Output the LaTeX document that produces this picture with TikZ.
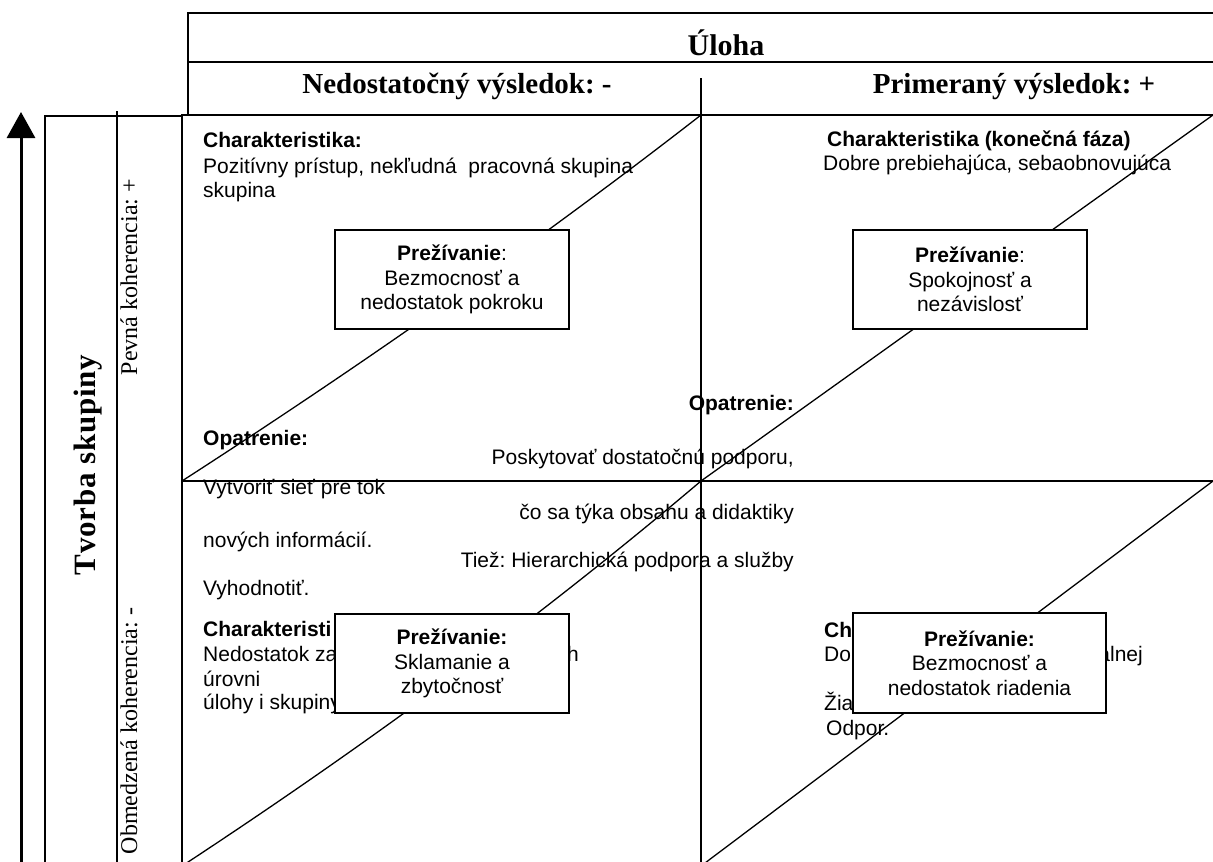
\documentclass[tikz,border=0pt]{standalone}
\usepackage{fontspec}
\setmainfont{Liberation Serif}
\newfontfamily\arial{Liberation Sans}
\newfontfamily\spacedserif[LetterSpace=2.5]{Liberation Serif}
\usetikzlibrary{arrows.meta}
\begin{document}
\frenchspacing
\begin{tikzpicture}[x=1pt,y=-1pt,
  thickline/.style={line width=2.2pt},
  thinline/.style={line width=1.3pt},
  sans/.style={font=\arial\fontsize{21}{24.5}\selectfont, inner sep=0pt},
  txt/.style={sans, anchor=base west},
  txtb/.style={sans, font=\arial\bfseries\fontsize{21}{24.5}\selectfont, anchor=base west},
  txtr/.style={sans, anchor=base east},
  txtbr/.style={txtb, anchor=base east},
  hdr/.style={font=\bfseries\fontsize{29}{33}\selectfont, anchor=base, inner sep=0pt},
  side/.style={font=\fontsize{24}{28}\selectfont, rotate=90, anchor=base, inner sep=0pt},
  pbox/.style={sans, draw, line width=2.2pt, fill=white, align=center, inner sep=0pt}
]
\useasboundingbox (0,0) rectangle (1213,862);

% named coordinates of the frame
\coordinate (hTL) at (188,13);  \coordinate (hTR) at (1213,13);
\coordinate (hML) at (188,62);  \coordinate (hMR) at (1213,62);
\coordinate (hBL) at (188,115);
\coordinate (qTL) at (182,115); \coordinate (qTR) at (1213,115);
\coordinate (qBL) at (182,862);
\coordinate (qML) at (182,481); \coordinate (qMR) at (1213,481);
\coordinate (cT) at (701,78);   \coordinate (cM) at (701,481);
\coordinate (cQ) at (701,115);  \coordinate (cB) at (701,862);
\coordinate (lTR) at (182,116); \coordinate (lTL) at (45,116); \coordinate (lBL) at (45,862);
\coordinate (iT) at (117,111);  \coordinate (iB) at (117,862);
\coordinate (arS) at (21,862);  \coordinate (arE) at (21,112);
\coordinate (dBL) at (182,866); \coordinate (dBM) at (701,866);

% frame
\draw[thickline] (hBL) -- (hTL) -- (hTR);
\draw[thinline] (hML) -- (hMR);
\draw[thickline] (qBL) -- (qTL) -- (qTR);
\draw[thinline] (qML) -- (qMR);
\draw[thinline] (cT) -- (cB);
\draw[thinline] (lTR) -- (lTL) -- (lBL);
\draw[thinline] (iT) -- (iB);
\draw[line width=3pt, -{Triangle[length=26pt,width=28pt]}] (arS) -- (arE);

% headers
\node[hdr, font=\bfseries\fontsize{30}{34}\selectfont] (uloha) at (726,55) {Úloha};
\node[hdr] (neg) at (457,93) {Nedostatočný výsledok: -};
\node[hdr] (pos) at (1014,93) {Primeraný výsledok: +};

% side labels
\node[side, font=\spacedserif\bfseries\fontsize{31}{35}\selectfont] (tvorba) at (95,465) {Tvorba skupiny};
\node[side] (pevna) at (137,277) {Pevná koherencia: +};
\node[side] (obm) at (137,731) {Obmedzená koherencia: -};

% top-left quadrant
\node[txtb] (c1) at (203,147) {Charakteristika:};
\node[txt] (c1a) at (203,173) {Pozitívny prístup, nekľudná\ \ pracovná skupina};
\node[txt] (c1b) at (203,197) {skupina};

% top-right quadrant
\node[txtb] (c2) at (827,146) {Charakteristika (konečná fáza)};
\node[txt] (c2a) at (823,170) {Dobre prebiehajúca, sebaobnovujúca};

% measures
\node[txtb] (o1) at (203,445) {Opatrenie:};
\node[txt] (o1a) at (203,494) {Vytvoriť sieť pre tok};
\node[txt] (o1b) at (203,547) {nových informácií.};
\node[txt] (o1c) at (203,595) {Vyhodnotiť.};
\node[txtbr] (o2) at (794,410) {Opatrenie:};
\node[txtr] (o2a) at (794,464) {Poskytovať dostatočnú podporu,};
\node[txtr] (o2b) at (794,519) {čo sa týka obsahu a didaktiky};
\node[txtr] (o2c) at (794,567) {Tiež: Hierarchická podpora a služby};

% bottom-left quadrant
\node[txtb] (c3) at (203,636) {Charakteristi};
\node[txt] (c3a) at (203,661) {Nedostatok za};
\node[txtr] (c3h) at (579,661) {h};
\node[txt] (c3b) at (203,686) {úrovni};
\node[txt] (c3c) at (203,709) {úlohy i skupiny};

% bottom-right quadrant
\node[txtb] (c4) at (824,637) {Ch};
\node[txt] (c4a) at (824,661) {Dol};
\node[txtr] (c4b) at (1143,661) {álnej};
\node[txt] (c4c) at (824,710) {Žia};
\node[txt] (c4d) at (826,735) {Odpor.};

% diagonals
\draw[thinline] (qML) .. controls (371,359) and (544,237) .. (cQ);
\draw[thinline] (cM) -- (qTR);
\draw[thinline] (dBL) .. controls (377,738) and (550,609) .. (cM);
\draw[thinline] (dBM) -- (qMR);

% experience boxes
\node[pbox, minimum width=234pt, minimum height=99pt] (p1) at (452,279.5)
  {\textbf{Prežívanie}:\\Bezmocnosť a\\nedostatok pokroku};
\node[pbox, minimum width=234pt, minimum height=99pt] (p2) at (970,279.5)
  {\textbf{Prežívanie}:\\Spokojnosť a\\nezávislosť};
\node[pbox, minimum width=234pt, minimum height=99pt] (p3) at (452,663.5)
  {\textbf{Prežívanie:}\\Sklamanie a\\zbytočnosť};
\node[pbox, minimum width=253pt, minimum height=100pt] (p4) at (979.5,663)
  {\textbf{Prežívanie:}\\Bezmocnosť a\\nedostatok riadenia};
\end{tikzpicture}
\end{document}
